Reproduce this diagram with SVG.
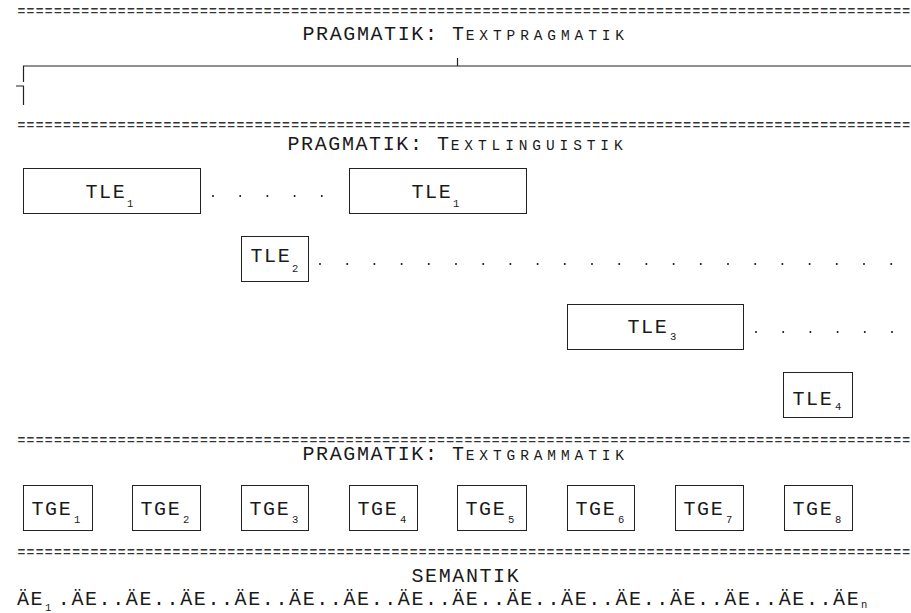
<svg xmlns="http://www.w3.org/2000/svg" width="911" height="613" viewBox="0 0 911 613">
<style>
text{font-family:"Liberation Mono","DejaVu Sans Mono",monospace;fill:#1a1a1a;white-space:pre}
.t{font-size:20px;letter-spacing:1.6px}
.sc{font-size:14.5px;letter-spacing:4.9px}
.sub{font-size:10.5px}
.eq{font-size:13px;letter-spacing:1.32px;font-weight:bold;fill:#333}
.box{fill:none;stroke:#222;stroke-width:1}
.ln{stroke:#222;stroke-width:1.2;fill:none}
.dots{stroke:#111;stroke-width:2;stroke-linecap:round;stroke-dasharray:0 27.2;fill:none}
</style>
<g id="rules">
<text class="eq" x="17.5" y="14.8">==================================================================================================</text>
<text class="eq" x="17.5" y="129.3">==================================================================================================</text>
<text class="eq" x="17.5" y="443.8">==================================================================================================</text>
<text class="eq" x="17.5" y="556.3">==================================================================================================</text>
</g>
<g id="header-textpragmatik">
<text class="t" x="302.5" y="40">PRAGMATIK: T<tspan class="sc">EXTPRAGMATIK</tspan></text>
</g>
<g id="header-textlinguistik">
<text class="t" x="287.5" y="150">PRAGMATIK: T<tspan class="sc">EXTLINGUISTIK</tspan></text>
</g>
<g id="header-textgrammatik">
<text class="t" x="302.5" y="460">PRAGMATIK: T<tspan class="sc">EXTGRAMMATIK</tspan></text>
</g>
<g id="header-semantik">
<text class="t" x="411.5" y="582">SEMANTIK</text>
</g>
<g id="connectors">
<polyline class="ln" points="23.5,82 23.5,66 911,66"/>
<line class="ln" x1="457.5" y1="58" x2="457.5" y2="66"/>
<polyline class="ln" points="16,86 23.5,86 23.5,105"/>
<line class="dots" x1="213" y1="196" x2="330" y2="196"/>
<line class="dots" x1="320" y1="264" x2="900" y2="264"/>
<line class="dots" x1="756" y1="332" x2="900" y2="332"/>
</g>
<g id="tle1a">
<rect class="box" x="23.5" y="168.5" width="177" height="45"/>
<text class="t" x="85.5" y="198">TLE</text><text class="sub" x="127" y="207">1</text>
</g>
<g id="tle1b">
<rect class="box" x="349.5" y="168.5" width="177" height="45"/>
<text class="t" x="411.5" y="198">TLE</text><text class="sub" x="453" y="207">1</text>
</g>
<g id="tle2">
<rect class="box" x="241.5" y="236.5" width="67" height="45"/>
<text class="t" x="250.5" y="262">TLE</text><text class="sub" x="292" y="272">2</text>
</g>
<g id="tle3">
<rect class="box" x="567.5" y="304.5" width="176" height="45"/>
<text class="t" x="627.5" y="333">TLE</text><text class="sub" x="670" y="340">3</text>
</g>
<g id="tle4">
<rect class="box" x="783.5" y="372.5" width="69" height="45"/>
<text class="t" x="792.5" y="405">TLE</text><text class="sub" x="835" y="410">4</text>
</g>
<g id="tge1"><rect class="box" x="23.5" y="485.5" width="69" height="45"/><text class="t" x="31.5" y="515">TGE</text><text class="sub" x="74" y="523">1</text></g>
<g id="tge2"><rect class="box" x="132.5" y="485.5" width="68" height="45"/><text class="t" x="140.5" y="515">TGE</text><text class="sub" x="183" y="523">2</text></g>
<g id="tge3"><rect class="box" x="241.5" y="485.5" width="67" height="45"/><text class="t" x="249.5" y="515">TGE</text><text class="sub" x="292" y="523">3</text></g>
<g id="tge4"><rect class="box" x="349.5" y="485.5" width="68" height="45"/><text class="t" x="357.5" y="515">TGE</text><text class="sub" x="400" y="523">4</text></g>
<g id="tge5"><rect class="box" x="457.5" y="485.5" width="69" height="45"/><text class="t" x="465.5" y="515">TGE</text><text class="sub" x="508" y="523">5</text></g>
<g id="tge6"><rect class="box" x="567.5" y="485.5" width="67" height="45"/><text class="t" x="575.5" y="515">TGE</text><text class="sub" x="618" y="523">6</text></g>
<g id="tge7"><rect class="box" x="675.5" y="485.5" width="68" height="45"/><text class="t" x="683.5" y="515">TGE</text><text class="sub" x="726" y="523">7</text></g>
<g id="tge8"><rect class="box" x="784.5" y="485.5" width="68" height="45"/><text class="t" x="792.5" y="515">TGE</text><text class="sub" x="835" y="523">8</text></g>
<g id="ae-sequence">
<text class="t" x="17" y="605">ÄE</text>
<text class="sub" x="45" y="611">1</text>
<text class="t" x="57.8" y="605">.ÄE..ÄE..ÄE..ÄE..ÄE..ÄE..ÄE..ÄE..ÄE..ÄE..ÄE..ÄE..ÄE..ÄE..ÄE</text>
<text class="sub" x="861" y="608">n</text>
</g>
</svg>
